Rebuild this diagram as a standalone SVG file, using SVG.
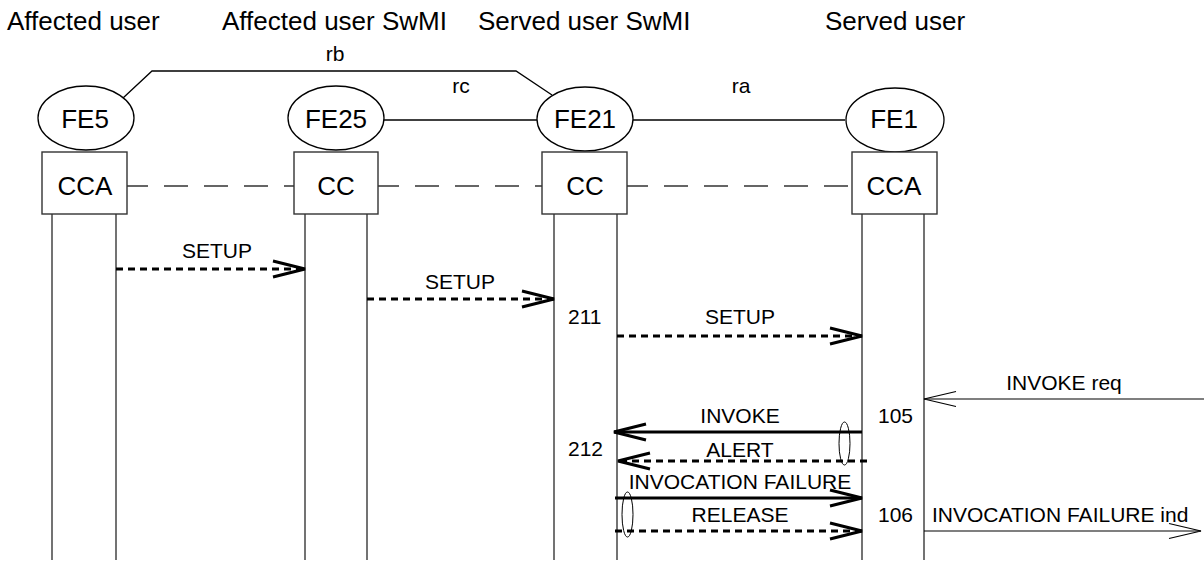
<svg xmlns="http://www.w3.org/2000/svg" width="1204" height="563" viewBox="0 0 1204 563">
<style>
text{font-family:"Liberation Sans",Arial,sans-serif;fill:#000}
.hdr{font-size:26px}
.nl{font-size:26px;text-anchor:middle}
.lb{font-size:21px;text-anchor:middle}
.ls{font-size:21px}
.fe{fill:#fff;stroke:#000;stroke-width:1.3}
.box{fill:#fff;stroke:#333;stroke-width:1.4}
.life{stroke:#444;stroke-width:1.5;fill:none}
.link{stroke:#000;stroke-width:1.3;fill:none}
.ref{stroke:#333;stroke-width:1.3;fill:none;stroke-dasharray:24 16}
.thick{stroke:#000;stroke-width:3;fill:none}
.dash{stroke:#000;stroke-width:3;fill:none;stroke-dasharray:7 5}
.thin{stroke:#000;stroke-width:1.2;fill:none}
.oval{fill:none;stroke:#000;stroke-width:1}
</style>
<defs>
<marker id="ahB" markerUnits="userSpaceOnUse" orient="auto" overflow="visible" markerWidth="1" markerHeight="1" refX="0" refY="0">
<path d="M-32,-8 L0,0 L-32,8" fill="none" stroke="#000" stroke-width="3"/>
</marker>
<marker id="ahT" markerUnits="userSpaceOnUse" orient="auto" overflow="visible" markerWidth="1" markerHeight="1" refX="0" refY="0">
<path d="M-32,-7.5 L0,0 L-32,7.5" fill="none" stroke="#000" stroke-width="1.2"/>
</marker>
</defs>
<rect width="1204" height="563" fill="#fff"/>
<g id="headers">
<text class="hdr" x="7" y="30">Affected user</text>
<text class="hdr" x="222" y="30">Affected user SwMI</text>
<text class="hdr" x="478" y="30">Served user SwMI</text>
<text class="hdr" x="825" y="30">Served user</text>
</g>
<g id="relations">
<polyline class="link" points="123,98 152,71 516,71 552,95"/>
<text class="lb" x="335" y="61">rb</text>
<line class="link" x1="384" y1="120" x2="537" y2="120"/>
<text class="lb" x="461" y="93">rc</text>
<line class="link" x1="633" y1="120" x2="845" y2="120"/>
<text class="lb" x="741" y="93">ra</text>
<line class="ref" x1="127" y1="186" x2="294" y2="186" stroke-dashoffset="3"/>
<line class="ref" x1="378" y1="186" x2="542" y2="186" stroke-dashoffset="3"/>
<line class="ref" x1="627" y1="186" x2="852" y2="186" stroke-dashoffset="3"/>
</g>
<g id="FE5">
<line class="life" x1="52" y1="214" x2="52" y2="560"/>
<line class="life" x1="116" y1="214" x2="116" y2="560"/>
<ellipse class="fe" cx="86" cy="118" rx="48" ry="32"/>
<text class="nl" x="85" y="128">FE5</text>
<rect class="box" x="42" y="152" width="85" height="62"/>
<text class="nl" x="85" y="195">CCA</text>
</g>
<g id="FE25">
<line class="life" x1="305" y1="214" x2="305" y2="560"/>
<line class="life" x1="367" y1="214" x2="367" y2="560"/>
<ellipse class="fe" cx="336" cy="118" rx="48" ry="32"/>
<text class="nl" x="336" y="128">FE25</text>
<rect class="box" x="294" y="152" width="84" height="62"/>
<text class="nl" x="336" y="195">CC</text>
</g>
<g id="FE21">
<line class="life" x1="554" y1="214" x2="554" y2="560"/>
<line class="life" x1="617" y1="214" x2="617" y2="560"/>
<ellipse class="fe" cx="585" cy="119" rx="48" ry="32"/>
<text class="nl" x="585" y="128">FE21</text>
<rect class="box" x="542" y="152" width="85" height="62"/>
<text class="nl" x="585" y="195">CC</text>
</g>
<g id="FE1">
<line class="life" x1="862" y1="214" x2="862" y2="560"/>
<line class="life" x1="924" y1="214" x2="924" y2="560"/>
<ellipse class="fe" cx="895" cy="120" rx="49" ry="32"/>
<text class="nl" x="894" y="128">FE1</text>
<rect class="box" x="852" y="152" width="85" height="62"/>
<text class="nl" x="894" y="195">CCA</text>
</g>
<g id="connectors">
<line class="dash" x1="116" y1="269" x2="305" y2="269" marker-end="url(#ahB)"/>
<text class="lb" x="217" y="258">SETUP</text>
<line class="dash" x1="367" y1="299" x2="554" y2="299" marker-end="url(#ahB)"/>
<text class="lb" x="460" y="289">SETUP</text>
<line class="dash" x1="617" y1="336" x2="862" y2="336" marker-end="url(#ahB)"/>
<text class="lb" x="740" y="324">SETUP</text>
<text class="ls" x="568" y="324">211</text>
<line class="thin" x1="1204" y1="399" x2="924" y2="399" marker-end="url(#ahT)"/>
<text class="lb" x="1064" y="390">INVOKE req</text>
<line class="thick" x1="862" y1="432" x2="614" y2="432" marker-end="url(#ahB)"/>
<text class="lb" x="740" y="423">INVOKE</text>
<text class="ls" x="878" y="423">105</text>
<ellipse class="oval" cx="844.5" cy="443.5" rx="5.5" ry="21.5"/>
<line class="dash" x1="867" y1="461" x2="618" y2="461" marker-end="url(#ahB)"/>
<text class="lb" x="740" y="457">ALERT</text>
<text class="ls" x="568" y="456">212</text>
<line class="thick" x1="615" y1="498" x2="862" y2="498" marker-end="url(#ahB)"/>
<text class="lb" x="740" y="489">INVOCATION FAILURE</text>
<line class="dash" x1="615" y1="531" x2="862" y2="531" marker-end="url(#ahB)"/>
<text class="lb" x="740" y="522">RELEASE</text>
<ellipse class="oval" cx="627.5" cy="514.5" rx="5.5" ry="22.5"/>
<text class="ls" x="878" y="522">106</text>
<line class="thin" x1="924" y1="531" x2="1201" y2="531" marker-end="url(#ahT)"/>
<text class="ls" x="932" y="522">INVOCATION FAILURE ind</text>
</g>
</svg>
